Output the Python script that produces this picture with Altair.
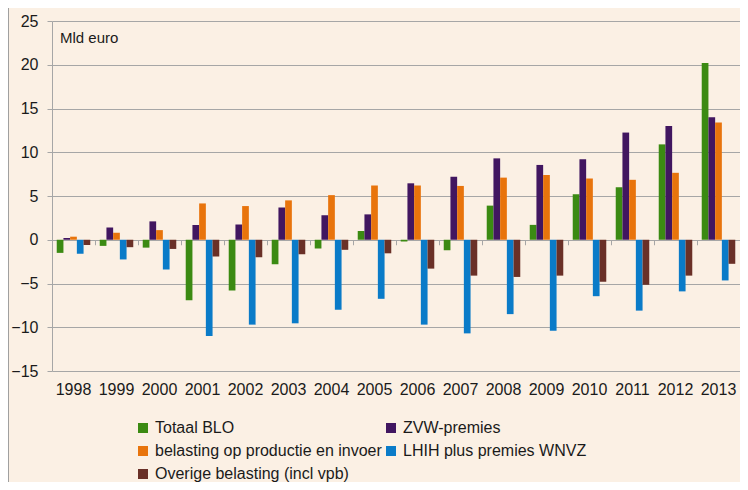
import altair as alt
import pandas as pd

years = [str(y) for y in range(1998, 2014)]
series = [
    "Totaal BLO",
    "ZVW-premies",
    "belasting op productie en invoer",
    "LHIH plus premies WNVZ",
    "Overige belasting (incl vpb)",
]
colors = ["#3B8A12", "#411660", "#E8740C", "#0A7BC8", "#6A3027"]

totaal = [-1.5, -0.7, -0.9, -6.9, -5.8, -2.8, -1.0, 1.0, -0.2, -1.2, 3.9, 1.7, 5.2, 6.0, 10.9, 20.2]
zvw = [0.2, 1.4, 2.1, 1.7, 1.75, 3.7, 2.8, 2.9, 6.45, 7.2, 9.3, 8.55, 9.2, 12.25, 13.0, 14.0]
productie = [0.35, 0.8, 1.1, 4.15, 3.85, 4.5, 5.1, 6.2, 6.2, 6.15, 7.1, 7.4, 7.0, 6.85, 7.65, 13.4]
lhih = [-1.6, -2.25, -3.4, -11.0, -9.7, -9.55, -8.0, -6.75, -9.7, -10.7, -8.5, -10.4, -6.45, -8.1, -5.9, -4.65]
overige = [-0.6, -0.85, -1.05, -1.9, -2.0, -1.65, -1.15, -1.55, -3.3, -4.1, -4.25, -4.1, -4.8, -5.15, -4.1, -2.75]

rows = []
for i, yr in enumerate(years):
    for s, vals in zip(series, [totaal, zvw, productie, lhih, overige]):
        rows.append({"jaar": yr, "reeks": s, "waarde": vals[i]})
df = pd.DataFrame(rows)

FONT = "Liberation Sans"
GRID = "#A6A6A6"
TXT = "#1A1A1A"
H = 350
ZERO_Y = H * 25 / 40

yenc = alt.Y(
    "waarde:Q",
    title=None,
    scale=alt.Scale(domain=[-15, 25], nice=False),
    axis=alt.Axis(
        values=list(range(-15, 30, 5)),
        grid=True,
        gridColor=GRID,
        gridWidth=1,
        domainColor=GRID,
        tickColor=GRID,
        tickSize=5,
        labelFontSize=16,
        labelPadding=9,
        labelColor=TXT,
        labelFont=FONT,
    ),
)

bars = alt.Chart(df).mark_bar().encode(
    x=alt.X(
        "jaar:N",
        sort=years,
        title=None,
        scale=alt.Scale(paddingInner=0.22, paddingOuter=0.11),
        axis=alt.Axis(
            labelAngle=0,
            domain=False,
            ticks=False,
            labelPadding=10,
            labelFontSize=16,
            labelColor=TXT,
            labelFont=FONT,
        ),
    ),
    y=yenc,
    xOffset=alt.XOffset("reeks:N", sort=series, scale=alt.Scale(paddingInner=0, paddingOuter=0)),
    color=alt.Color(
        "reeks:N",
        sort=series,
        scale=alt.Scale(domain=series, range=colors),
        legend=alt.Legend(
            title=None,
            orient="none",
            legendX=83,
            legendY=399,
            columns=2,
            direction="horizontal",
            symbolType="square",
            symbolSize=100,
            symbolStrokeWidth=0,
            labelFontSize=16,
            labelFont=FONT,
            labelColor=TXT,
            labelOffset=4,
            rowPadding=7,
            columnPadding=1,
            labelLimit=400,
        ),
    ),
)

tickaxis = alt.Chart(df).mark_point(opacity=0).encode(
    x=alt.X(
        "jaar:N",
        sort=years,
        title=None,
        scale=alt.Scale(paddingInner=0, paddingOuter=0),
        axis=alt.Axis(
            orient="top",
            offset=-(ZERO_Y + 5),
            labels=False,
            domain=False,
            ticks=True,
            tickBand="extent",
            tickSize=5,
            tickColor=GRID,
            tickWidth=1,
        ),
    ),
    y=alt.Y("waarde:Q"),
)

one = pd.DataFrame({"t": ["Mld euro"]})
label = alt.Chart(one).mark_text(
    align="left", baseline="alphabetic", fontSize=15, font=FONT, color=TXT
).encode(x=alt.value(8), y=alt.value(22), text="t:N")

top_line = alt.Chart(one).mark_rule(color="#A0A0A0", strokeWidth=1, clip=False).encode(
    x=alt.value(-43.5), x2=alt.value(700), y=alt.value(-13.5)
)
left_line = alt.Chart(one).mark_rule(color="#A0A0A0", strokeWidth=1, clip=False).encode(
    x=alt.value(-43.5), y=alt.value(-13.5), y2=alt.value(480)
)

chart = (
    alt.layer(bars, tickaxis, label, top_line, left_line)
    .resolve_scale(x="independent")
    .properties(
        width=688,
        height=H,
        autosize=alt.AutoSizeParams(type="none"),
        padding={"left": 44, "top": 13, "right": 0, "bottom": 111},
        background="#FBF0E4",
    )
    .configure_view(stroke=None)
)

chart.save("out.html", embed_options={"renderer": "svg", "actions": False})
